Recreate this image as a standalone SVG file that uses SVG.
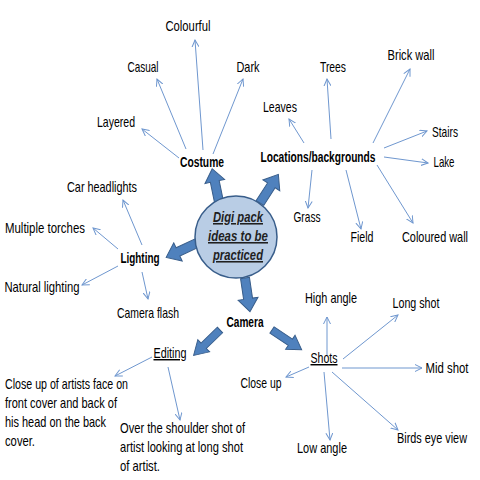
<svg xmlns="http://www.w3.org/2000/svg" xmlns:xlink="http://www.w3.org/1999/xlink" width="480" height="480" viewBox="0 0 480 480">
<style>
text{font-family:"Liberation Sans",Arial,sans-serif;font-size:14.5px;fill:#000;text-anchor:middle}
.b{font-weight:bold}
.u{text-decoration:underline}
.l{text-anchor:start}
.r{text-anchor:end}
.c{font-size:15.5px;font-weight:bold;font-style:italic;text-decoration:underline;fill:#1f1f1f}
.t{stroke:#6f97cf;stroke-width:1;fill:none;marker-end:url(#ah)}
.blk{fill:#4f81bd;stroke:#385d8a;stroke-width:1}
</style>
<defs>
<marker id="ah" viewBox="0 0 8 8" refX="7" refY="4" markerWidth="8" markerHeight="8" markerUnits="userSpaceOnUse" orient="auto">
<path d="M0,0.5 L7,4 L0,7.5" fill="none" stroke="#6f97cf" stroke-width="1"/>
</marker>
<path id="blk" d="M0,-4.5 L21,-4.5 L21,-10 L34,0 L21,10 L21,4.5 L0,4.5 Z"/>
</defs>
<rect width="480" height="480" fill="#fff"/>
<g id="connectors">
<g class="blk">
<use xlink:href="#blk" transform="translate(219,202) rotate(-101.6)"/>
<use xlink:href="#blk" transform="translate(260,203) rotate(-57.3)"/>
<use xlink:href="#blk" transform="translate(197,243) rotate(155)"/>
<use xlink:href="#blk" transform="translate(245,278) rotate(81.6)"/>
<use xlink:href="#blk" transform="translate(220,330) rotate(136) scale(1.08,0.85)"/>
<use xlink:href="#blk" transform="translate(272,330) rotate(33.7) scale(1.05,0.85)"/>
</g>
<g>
<line class="t" x1="203" y1="150" x2="195" y2="40"/>
<line class="t" x1="186" y1="149" x2="157" y2="79"/>
<line class="t" x1="213" y1="154" x2="243" y2="79"/>
<line class="t" x1="179" y1="158" x2="142" y2="129"/>
<line class="t" x1="304" y1="143" x2="289" y2="119"/>
<line class="t" x1="331" y1="139" x2="327" y2="79"/>
<line class="t" x1="373" y1="143" x2="410" y2="69"/>
<line class="t" x1="384" y1="148" x2="427" y2="131"/>
<line class="t" x1="384" y1="157" x2="428" y2="163"/>
<line class="t" x1="312" y1="170" x2="308" y2="208"/>
<line class="t" x1="346" y1="170" x2="361" y2="229"/>
<line class="t" x1="377" y1="165" x2="413" y2="223"/>
<line class="t" x1="142" y1="245" x2="123" y2="200"/>
<line class="t" x1="118" y1="249" x2="93" y2="228"/>
<line class="t" x1="118" y1="266" x2="82" y2="285"/>
<line class="t" x1="142" y1="272" x2="148" y2="299"/>
<line class="t" x1="152" y1="357" x2="115" y2="376"/>
<line class="t" x1="168" y1="367" x2="180" y2="420"/>
<line class="t" x1="327" y1="355" x2="327" y2="317"/>
<line class="t" x1="343" y1="359" x2="398" y2="315"/>
<line class="t" x1="342" y1="368" x2="422" y2="368"/>
<line class="t" x1="309" y1="367" x2="286" y2="377"/>
<line class="t" x1="324" y1="372" x2="330" y2="440"/>
<line class="t" x1="332" y1="372" x2="398" y2="430"/>
</g>
</g>
<g id="center">
<circle cx="236" cy="237" r="41" fill="#b9cde5" stroke="#385d8a" stroke-width="1.5"/>
<text class="c" x="238" y="222" textLength="50" lengthAdjust="spacingAndGlyphs">Digi pack</text>
<text class="c" x="238" y="241" textLength="60" lengthAdjust="spacingAndGlyphs">ideas to be</text>
<text class="c" x="238" y="260" textLength="50" lengthAdjust="spacingAndGlyphs">practiced</text>
</g>
<g id="costume">
<text class="b" x="202" y="167" textLength="44" lengthAdjust="spacingAndGlyphs">Costume</text>
<text x="188" y="31" textLength="45" lengthAdjust="spacingAndGlyphs">Colourful</text>
<text x="143" y="72" textLength="31" lengthAdjust="spacingAndGlyphs">Casual</text>
<text x="248" y="72" textLength="23" lengthAdjust="spacingAndGlyphs">Dark</text>
<text x="116" y="127" textLength="38" lengthAdjust="spacingAndGlyphs">Layered</text>
</g>
<g id="locations">
<text class="b" x="318" y="162" textLength="115" lengthAdjust="spacingAndGlyphs">Locations/backgrounds</text>
<text x="333" y="72" textLength="26" lengthAdjust="spacingAndGlyphs">Trees</text>
<text x="411" y="60" textLength="47" lengthAdjust="spacingAndGlyphs">Brick wall</text>
<text x="280" y="112" textLength="34" lengthAdjust="spacingAndGlyphs">Leaves</text>
<text x="445" y="137" textLength="26" lengthAdjust="spacingAndGlyphs">Stairs</text>
<text x="444" y="167" textLength="21" lengthAdjust="spacingAndGlyphs">Lake</text>
<text x="307" y="222" textLength="27" lengthAdjust="spacingAndGlyphs">Grass</text>
<text x="362" y="242" textLength="23" lengthAdjust="spacingAndGlyphs">Field</text>
<text class="r" x="468" y="242" textLength="66" lengthAdjust="spacingAndGlyphs">Coloured wall</text>
</g>
<g id="lighting">
<text class="b" x="140" y="263" textLength="39" lengthAdjust="spacingAndGlyphs">Lighting</text>
<text x="102" y="192" textLength="70" lengthAdjust="spacingAndGlyphs">Car headlights</text>
<text x="45" y="233" textLength="80" lengthAdjust="spacingAndGlyphs">Multiple torches</text>
<text x="42" y="292" textLength="75" lengthAdjust="spacingAndGlyphs">Natural lighting</text>
<text x="148" y="318" textLength="62" lengthAdjust="spacingAndGlyphs">Camera flash</text>
</g>
<g id="camera">
<text class="b" x="245" y="327" textLength="37" lengthAdjust="spacingAndGlyphs">Camera</text>
</g>
<g id="editing">
<text class="u" x="170" y="358" textLength="33" lengthAdjust="spacingAndGlyphs">Editing</text>
<text class="l" x="5" y="389" textLength="123" lengthAdjust="spacingAndGlyphs">Close up of artists face on</text>
<text class="l" x="5" y="408" textLength="112" lengthAdjust="spacingAndGlyphs">front cover and back of</text>
<text class="l" x="5" y="427" textLength="101" lengthAdjust="spacingAndGlyphs">his head on the back</text>
<text class="l" x="5" y="446" textLength="30" lengthAdjust="spacingAndGlyphs">cover.</text>
<text class="l" x="120" y="433" textLength="125" lengthAdjust="spacingAndGlyphs">Over the shoulder shot of</text>
<text class="l" x="120" y="452" textLength="123" lengthAdjust="spacingAndGlyphs">artist looking at long shot</text>
<text class="l" x="120" y="471" textLength="40" lengthAdjust="spacingAndGlyphs">of artist.</text>
</g>
<g id="shots">
<text class="u" x="324" y="363" textLength="27" lengthAdjust="spacingAndGlyphs">Shots</text>
<text x="331" y="303" textLength="52" lengthAdjust="spacingAndGlyphs">High angle</text>
<text x="416" y="308" textLength="47" lengthAdjust="spacingAndGlyphs">Long shot</text>
<text x="447" y="373" textLength="43" lengthAdjust="spacingAndGlyphs">Mid shot</text>
<text x="261" y="388" textLength="41" lengthAdjust="spacingAndGlyphs">Close up</text>
<text x="322" y="453" textLength="50" lengthAdjust="spacingAndGlyphs">Low angle</text>
<text class="r" x="467" y="443" textLength="70" lengthAdjust="spacingAndGlyphs">Birds eye view</text>
</g>
</svg>
